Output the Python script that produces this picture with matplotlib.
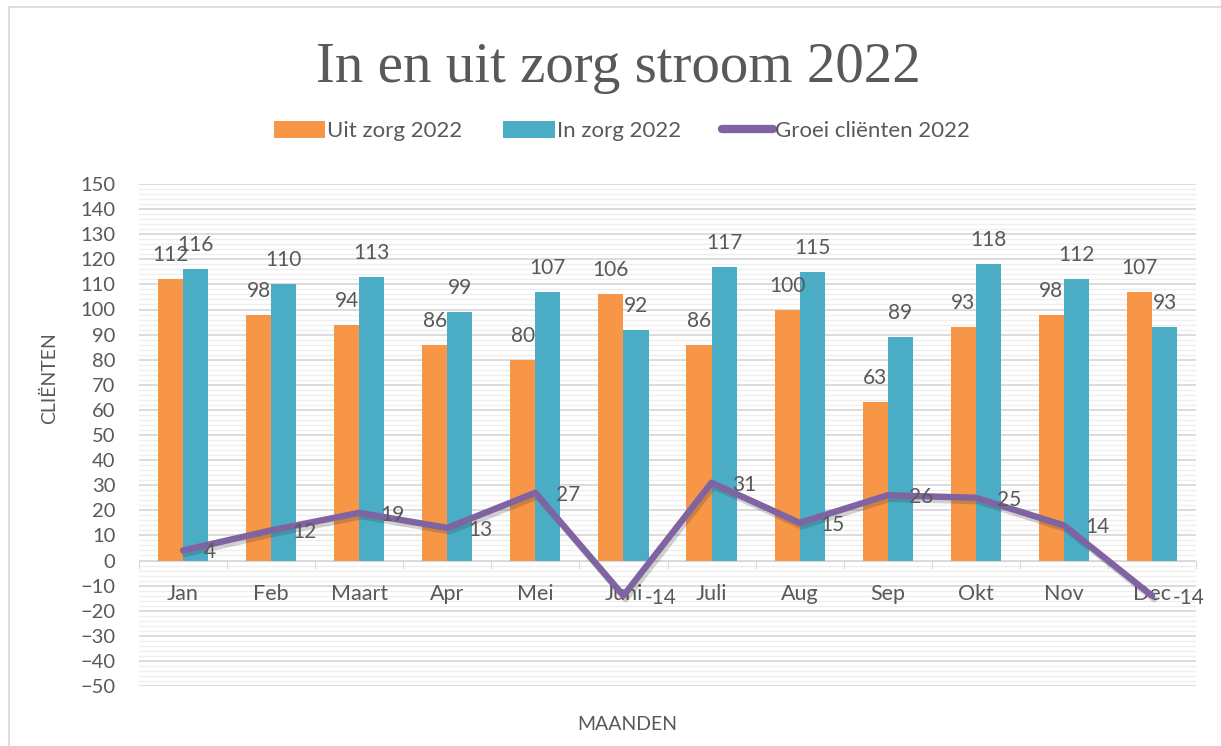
import matplotlib
matplotlib.use("Agg")
import matplotlib.pyplot as plt
import matplotlib.patheffects as pe
from matplotlib.lines import Line2D
import numpy as np

# gegevens
maanden = ['Jan', 'Feb', 'Maart', 'Apr', 'Mei', 'Juni', 'Juli', 'Aug', 'Sep', 'Okt', 'Nov', 'Dec']
uit_zorg = [112, 98, 94, 86, 80, 106, 86, 100, 63, 93, 98, 107]
in_zorg = [116, 110, 113, 99, 107, 92, 117, 115, 89, 118, 112, 93]
groei = [4, 12, 19, 13, 27, -14, 31, 15, 26, 25, 14, -14]

ORANJE = '#F79646'
BLAUW = '#4BACC6'
PAARS = '#8064A2'
TEKST = '#595959'

plt.rcParams['font.family'] = ['Lato', 'DejaVu Sans']

fig = plt.figure(figsize=(12.21, 7.46), dpi=100)
ax = fig.add_axes([139 / 1221, 1 - 686 / 746, (1196 - 139) / 1221, (686 - 184) / 746])

x = np.arange(len(maanden))
w = 0.285
b1 = ax.bar(x - w / 2, uit_zorg, w, color=ORANJE, label='Uit zorg 2022', zorder=3)
b2 = ax.bar(x + w / 2, in_zorg, w, color=BLAUW, label='In zorg 2022', zorder=3)
lijn, = ax.plot(x, groei, color=PAARS, lw=4.6, solid_capstyle='round', solid_joinstyle='round',
                label='Groei cliënten 2022', zorder=6,
                path_effects=[pe.SimpleLineShadow(offset=(1.5, -2.5), alpha=0.22, shadow_color='#333333'),
                              pe.Normal()])

# labels
for xi, v in zip(x - w / 2, uit_zorg):
    ax.annotate(str(v), (xi, v), xytext=(0, 24), textcoords='offset pixels',
                ha='center', va='center', fontsize=15, color=TEKST, zorder=5)
for xi, v in zip(x + w / 2, in_zorg):
    ax.annotate(str(v), (xi, v), xytext=(0, 24), textcoords='offset pixels',
                ha='center', va='center', fontsize=15, color=TEKST, zorder=5)
for xi, v in zip(x, groei):
    ax.annotate(str(v), (xi, v), xytext=(21, -2), textcoords='offset pixels',
                ha='left', va='center', fontsize=15, color=TEKST, zorder=7)

ax.set_xlim(-0.5, len(maanden) - 0.5)
ax.set_ylim(-50, 150)
ax.set_yticks(range(-50, 151, 10))
ax.set_yticks(range(-50, 151, 2), minor=True)
ax.tick_params(axis='y', which='both', length=0, labelsize=14.5, labelcolor=TEKST, pad=17)
ax.grid(axis='y', which='major', color='#D9D9D9', lw=1.3, zorder=0)
ax.grid(axis='y', which='minor', color='#EFEFEF', lw=1.0, zorder=0)

for s in ['top', 'right', 'left']:
    ax.spines[s].set_visible(False)
ax.spines['bottom'].set_position(('data', 0))
ax.spines['bottom'].set_color('#D9D9D9')
ax.spines['bottom'].set_zorder(3.5)
ax.xaxis.set_zorder(3.6)
ax.set_xticks(np.arange(-0.5, len(maanden), 1))
ax.set_xticklabels([])
ax.set_xticks(x, minor=True)
ax.set_xticklabels(maanden, minor=True)
ax.tick_params(axis='x', which='major', length=6, color='#D9D9D9', direction='out')
ax.tick_params(axis='x', which='minor', length=0, labelsize=15.5, labelcolor=TEKST, pad=17)

fig.text(618 / 1221, 1 - 82 / 746, 'In en uit zorg stroom 2022', ha='center', va='baseline',
         fontsize=41, color=TEKST, family=['Liberation Serif', 'DejaVu Serif'])
fig.text(50 / 1221, 1 - 378 / 746, 'CLIËNTEN', rotation=90, ha='center', va='center',
         fontsize=14, color=TEKST)
fig.text(627 / 1221, 1 - 725 / 746, 'MAANDEN', ha='center', va='center', fontsize=14, color=TEKST)

fig.legend(handles=[b1, b2, Line2D([], [], color=PAARS, lw=6, solid_capstyle='round')],
           labels=['Uit zorg 2022', 'In zorg 2022', 'Groei cliënten 2022'],
           loc='center', bbox_to_anchor=(622 / 1221, 1 - 131 / 746), ncol=3, frameon=False,
           fontsize=16, labelcolor=TEKST, handlelength=2.3, handleheight=0.8,
           handletextpad=0.1, columnspacing=1.85)

# rand
fig.add_artist(Line2D([9 / 1221, 9 / 1221], [0, 1 - 7 / 746], color='#D9D9D9', lw=1.2))
fig.add_artist(Line2D([9 / 1221, 1], [1 - 7 / 746, 1 - 7 / 746], color='#D9D9D9', lw=1.2))

fig.savefig('out.png', dpi=100)
